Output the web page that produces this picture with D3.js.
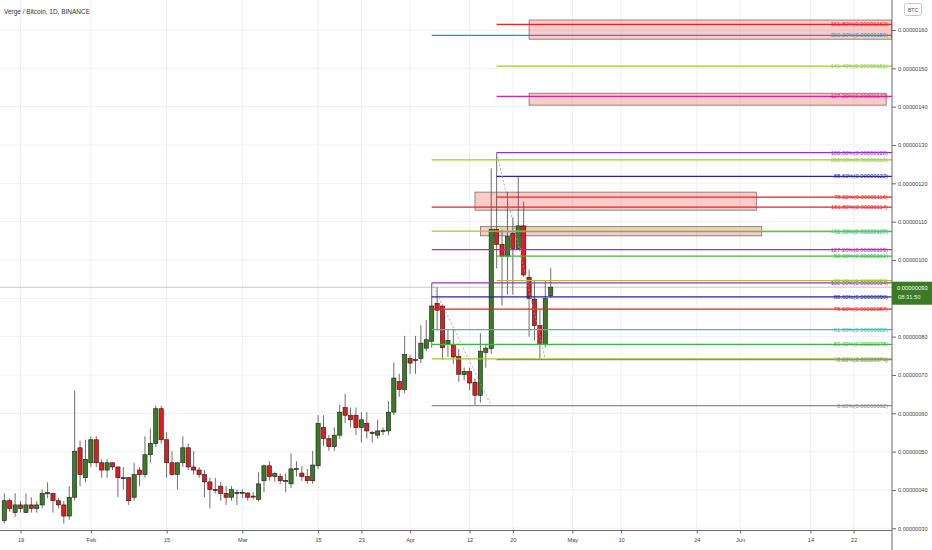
<!DOCTYPE html>
<html>
<head>
<meta charset="utf-8">
<script src="https://cdn.jsdelivr.net/npm/d3@7"></script>
<style>
  html, body { margin: 0; padding: 0; background: #fff; }
  svg { display: block; font-family: "Liberation Sans", Arial, sans-serif; }
</style>
</head>
<body>
<svg id="chart" width="932" height="550"></svg>
<script>
// Data, prices in satoshi (1e-8 BTC), one daily candle from Jan 16
const candleOpen = [
  32.0, 37.2, 34.1, 36.1, 34.1, 36.1, 35.2, 36.1, 39.0, 39.1,
  37.2, 36.1, 33.2, 38.1, 51.0, 43.2, 47.1, 53.1, 47.1, 45.2,
  47.1, 46.0, 43.2, 43.2, 38.1, 45.2, 44.0, 49.2, 52.1, 61.2,
  53.1, 47.1, 44.0, 47.1, 51.0, 46.0, 45.2, 44.0, 42.1, 40.1,
  41.0, 39.1, 38.1, 39.2, 39.3, 39.2, 38.4, 37.5, 42.4, 46.3,
  43.5, 43.5, 42.4, 41.6, 45.5, 44.4, 43.5, 42.4, 46.3, 56.3,
  53.4, 51.3, 54.3, 61.5, 59.5, 59.5, 56.3, 57.4, 55.0, 54.3,
  55.4, 55.4, 60.3, 68.3, 66.2, 74.3, 74.0, 74.3, 77.0, 78.8,
  88.7, 88.0, 78.1, 77.7, 74.8, 70.1, 70.9, 68.1, 64.7, 75.9,
  76.9, 108.0, 104.1, 101.0, 107.0, 103.0, 108.9, 95.5, 89.8, 82.9,
  78.0, 90.7
];
const candleHigh = [
  39.1, 37.8, 39.1, 37.1, 39.1, 38.1, 37.1, 40.1, 42.0, 39.3,
  37.9, 37.1, 41.0, 65.9, 52.9, 53.1, 54.0, 54.0, 48.0, 48.0,
  47.2, 46.1, 46.0, 43.3, 47.1, 46.0, 54.0, 56.0, 62.0, 62.0,
  55.1, 50.1, 47.2, 54.0, 52.1, 50.1, 46.0, 45.2, 43.2, 43.2,
  42.1, 41.0, 41.0, 40.1, 40.2, 39.4, 39.4, 44.6, 46.6, 47.5,
  44.8, 44.3, 44.3, 49.6, 47.5, 46.2, 45.5, 50.2, 59.5, 59.5,
  54.3, 56.3, 62.3, 65.1, 61.5, 61.5, 60.3, 60.3, 55.4, 58.3,
  56.3, 63.2, 73.3, 70.3, 80.2, 75.3, 80.2, 83.0, 84.3, 94.0,
  92.9, 88.4, 82.0, 82.0, 76.8, 71.9, 71.9, 69.1, 80.9, 78.1,
  123.9, 128.0, 108.0, 117.8, 111.1, 121.9, 115.2, 97.5, 94.5, 87.0,
  94.8, 97.9
];
const candleLow = [
  31.3, 34.3, 33.0, 34.1, 34.1, 34.1, 34.1, 35.2, 37.9, 34.1,
  35.2, 31.2, 32.2, 37.2, 41.0, 42.0, 46.0, 46.0, 43.2, 43.2,
  45.2, 38.1, 40.1, 36.1, 37.2, 41.0, 43.2, 47.1, 51.2, 52.1,
  43.2, 43.8, 40.1, 46.0, 45.2, 44.0, 43.2, 38.1, 35.2, 39.1,
  37.2, 36.1, 37.2, 36.1, 37.9, 37.2, 37.5, 37.0, 39.4, 42.4,
  42.2, 41.6, 39.4, 40.5, 43.5, 42.4, 41.6, 41.6, 45.5, 51.5,
  50.2, 50.2, 53.4, 57.4, 56.3, 54.3, 52.4, 53.4, 52.4, 53.4,
  54.3, 54.3, 59.5, 64.3, 65.3, 70.3, 70.3, 73.1, 76.2, 77.1,
  81.6, 74.0, 74.7, 72.9, 68.2, 68.6, 66.0, 62.0, 62.8, 71.9,
  75.5, 97.8, 88.1, 90.9, 90.9, 102.6, 95.6, 80.0, 79.0, 74.1,
  77.2, 90.1
];
const candleClose = [
  37.2, 35.2, 36.1, 35.2, 36.1, 35.2, 36.1, 39.1, 39.3, 37.2,
  36.1, 33.2, 38.1, 50.1, 44.0, 48.0, 53.1, 47.1, 45.2, 47.1,
  46.0, 43.2, 43.1, 37.2, 44.0, 44.0, 49.2, 52.1, 61.2, 53.1,
  47.1, 44.0, 47.1, 51.0, 46.0, 45.2, 44.0, 42.1, 40.1, 40.0,
  39.1, 38.1, 40.1, 39.3, 39.4, 38.1, 38.3, 41.6, 46.3, 43.5,
  44.3, 42.4, 42.5, 45.5, 45.6, 43.5, 42.4, 46.5, 57.4, 53.4,
  51.3, 54.3, 60.3, 59.5, 58.3, 56.3, 58.3, 55.4, 54.9, 55.4,
  55.5, 60.3, 69.2, 66.2, 75.3, 73.1, 73.9, 78.3, 79.2, 88.0,
  86.9, 77.1, 79.0, 74.7, 70.2, 70.9, 67.9, 64.7, 76.2, 77.0,
  108.0, 104.1, 101.0, 106.1, 103.0, 108.9, 96.1, 90.0, 82.9, 78.0,
  89.9, 92.9
];

// Fibonacci tools (level %, price)
const fibAStart = '2021-04-05';
const fibAPct = [100, 88.6, 78.6, 61.8, 50, 38.2, 0, 127.2, 141.4, 161.8, 200, 300];
const fibAPrice = [94.0, 90.4, 87.2, 81.8, 78.0, 74.2, 62.0, 102.7, 107.5, 113.8, 126.1, 158.6];
const fibBStart = '2021-04-17';
const fibBPct = [100, 88.6, 78.6, 61.8, 50, 38.2, 0, 127.2, 141.4, 161.8];
const fibBPrice = [128.0, 121.8, 116.4, 107.4, 101.0, 94.6, 74.0, 142.7, 150.6, 161.5];

// trend lines of the fib tools
const swingFrom = [['2021-04-05', 94.0], ['2021-04-17', 128.0]];
const swingTo = [['2021-04-16', 62.0], ['2021-04-26', 74.0]];

// rectangles
const zoneStart = ['2021-04-23', '2021-04-23', '2021-04-13', '2021-04-14'];
const zoneEnd = ['2021-06-29', '2021-06-28', '2021-06-04', '2021-06-05'];
const zoneTop = [162.6, 143.5, 117.7, 108.7];
const zoneBottom = [157.6, 140.4, 113.0, 106.3];

// axes
const xTickDates = ['2021-01-19', '2021-02-01', '2021-02-15', '2021-03-01', '2021-03-15', '2021-03-23',
  '2021-04-01', '2021-04-12', '2021-04-20', '2021-05-01', '2021-05-10', '2021-05-24',
  '2021-06-01', '2021-06-14', '2021-06-22'];
const xTickLabels = ['19', 'Feb', '15', 'Mar', '15', '23', 'Apr', '12', '20', 'May', '10', '24', 'Jun', '14', '22'];
const priceTicks = [30, 40, 50, 60, 70, 80, 90, 100, 110, 120, 130, 140, 150, 160];
// the 90 label sits under the last-price tag
const priceLabelTicks = [30, 40, 50, 60, 70, 80, 100, 110, 120, 130, 140, 150, 160];
const lastPrice = 92.9;
const countdown = '08:31:50';

const levelColor = {
  0: '#8a8a8a', 38.2: '#9acd32', 50: '#3cb83c', 61.8: '#2fc4b2', 78.6: '#f01e1e',
  88.6: '#26269e', 100: '#9b30c8', 127.2: '#d4209c', 141.4: '#9acd32', 161.8: '#f01e1e',
  200: '#9acd32', 300: '#2b8fc4'
};

const parseDay = d3.utcParse('%Y-%m-%d');
const fmtPrice = v => (Math.round(v) * 1e-8).toFixed(8);

const candleDays = d3.utcDay.range(parseDay('2021-01-16'), parseDay('2021-04-28'));
const candles = candleDays.map((d, i) => ({
  date: d, o: candleOpen[i], h: candleHigh[i], l: candleLow[i], c: candleClose[i]
}));

const fibLines = [
  ...fibAPct.map((p, i) => ({ start: parseDay(fibAStart), pct: p, price: fibAPrice[i] })),
  ...fibBPct.map((p, i) => ({ start: parseDay(fibBStart), pct: p, price: fibBPrice[i] }))
];

const plotRight = 892;
const plotBottom = 530.5;

const x = d3.scaleUtc()
  .domain([parseDay('2021-01-16'), parseDay('2021-06-22')])
  .range([4.3, 853.7]);

const y = d3.scaleLinear()
  .domain([30, 160])
  .range([528.3, 30]);

const svg = d3.select('#chart');

svg.append('defs').append('clipPath')
  .attr('id', 'plot-clip')
  .append('rect')
  .attr('width', plotRight)
  .attr('height', plotBottom);

const plot = svg.append('g').attr('clip-path', 'url(#plot-clip)');

// Grid
plot.selectAll('.vgrid')
  .data(xTickDates)
  .enter()
  .append('line')
  .attr('x1', d => x(parseDay(d)))
  .attr('x2', d => x(parseDay(d)))
  .attr('y1', 0)
  .attr('y2', plotBottom)
  .attr('stroke', '#eef0f3');

plot.selectAll('.hgrid')
  .data(priceTicks)
  .enter()
  .append('line')
  .attr('x1', 0)
  .attr('x2', plotRight)
  .attr('y1', d => y(d))
  .attr('y2', d => y(d))
  .attr('stroke', '#eef0f3');

// last price line
plot.append('line')
  .attr('x1', 0)
  .attr('x2', plotRight)
  .attr('y1', y(lastPrice))
  .attr('y2', y(lastPrice))
  .attr('stroke', '#c4c4cc');

// Zones
plot.selectAll('.zone')
  .data(zoneStart)
  .enter()
  .append('rect')
  .attr('x', (d, i) => x(parseDay(d)))
  .attr('y', (d, i) => y(zoneTop[i]))
  .attr('width', (d, i) => x(parseDay(zoneEnd[i])) - x(parseDay(d)))
  .attr('height', (d, i) => y(zoneBottom[i]) - y(zoneTop[i]))
  .attr('fill', 'rgba(244, 67, 54, 0.28)')
  .attr('stroke', '#7d6b6b')
  .attr('stroke-width', 0.8);

// Candles
const candle = plot.selectAll('.candle')
  .data(candles)
  .enter()
  .append('g');

candle.append('line')
  .attr('x1', d => x(d.date))
  .attr('x2', d => x(d.date))
  .attr('y1', d => y(d.h))
  .attr('y2', d => y(d.l))
  .attr('stroke', '#4a4a4a')
  .attr('stroke-width', 0.8);

candle.append('rect')
  .attr('x', d => x(d.date) - 2.1)
  .attr('width', 4.2)
  .attr('y', d => y(Math.max(d.o, d.c)))
  .attr('height', d => Math.max(1, Math.abs(y(d.o) - y(d.c))))
  .attr('fill', d => d.c >= d.o ? '#3b7a27' : '#e01c1c')
  .attr('stroke', '#1c1c1c')
  .attr('stroke-width', 0.6);

// Fib lines
plot.selectAll('.fib')
  .data(fibLines)
  .enter()
  .append('line')
  .attr('x1', d => x(d.start))
  .attr('x2', plotRight)
  .attr('y1', d => y(d.price))
  .attr('y2', d => y(d.price))
  .attr('stroke', d => levelColor[d.pct])
  .attr('stroke-width', 1.25);

plot.selectAll('.swing')
  .data(swingFrom)
  .enter()
  .append('line')
  .attr('x1', d => x(parseDay(d[0])))
  .attr('y1', d => y(d[1]))
  .attr('x2', (d, i) => x(parseDay(swingTo[i][0])))
  .attr('y2', (d, i) => y(swingTo[i][1]))
  .attr('stroke', '#9a9a9a')
  .attr('stroke-width', 0.8)
  .attr('stroke-dasharray', '2,2');

plot.selectAll('.fib-label')
  .data(fibLines)
  .enter()
  .append('text')
  .attr('x', 888)
  .attr('y', d => y(d.price))
  .attr('dy', '0.35em')
  .attr('text-anchor', 'end')
  .attr('font-size', 5.8)
  .attr('fill', d => levelColor[d.pct])
  .text(d => `${d.pct.toFixed(2)}%(${fmtPrice(d.price)})`);

// Axes
const yAxis = svg.append('g')
  .attr('transform', `translate(${plotRight},0)`)
  .call(d3.axisRight(y)
    .tickValues(priceLabelTicks)
    .tickFormat(fmtPrice)
    .tickSize(4)
    .tickPadding(2));

const xAxis = svg.append('g')
  .attr('transform', `translate(0,${plotBottom})`)
  .call(d3.axisBottom(x)
    .tickValues(xTickDates.map(parseDay))
    .tickFormat((d, i) => xTickLabels[i])
    .tickSize(3)
    .tickPadding(5));

[yAxis, xAxis].forEach(a => {
  a.select('.domain').remove();
  a.selectAll('line').attr('stroke', '#6a6a6a');
  a.selectAll('text').attr('font-size', 5.6).attr('fill', '#444')
    .attr('font-family', '"Liberation Sans", Arial, sans-serif');
});

svg.append('line')
  .attr('x1', plotRight).attr('x2', plotRight)
  .attr('y1', 0).attr('y2', 550)
  .attr('stroke', '#6a6a6a');

svg.append('line')
  .attr('x1', 0).attr('x2', plotRight)
  .attr('y1', plotBottom).attr('y2', plotBottom)
  .attr('stroke', '#6a6a6a');

// Last price tag
svg.append('rect')
  .attr('x', plotRight)
  .attr('y', y(lastPrice) - 5.5)
  .attr('width', 932 - plotRight)
  .attr('height', 23)
  .attr('fill', '#3c7b25');

svg.append('text')
  .attr('x', 897)
  .attr('y', y(lastPrice) + 2.5)
  .attr('font-size', 5.8)
  .attr('fill', '#fff')
  .text(fmtPrice(lastPrice));

svg.append('text')
  .attr('x', 898)
  .attr('y', y(lastPrice) + 12)
  .attr('font-size', 5.8)
  .attr('fill', '#e8f0e4')
  .text(countdown);

// Title and currency badge
svg.append('text')
  .attr('x', 4)
  .attr('y', 14)
  .attr('font-size', 7.4)
  .attr('fill', '#333')
  .attr('textLength', 86)
  .attr('lengthAdjust', 'spacingAndGlyphs')
  .text('Verge / Bitcoin, 1D, BINANCE');

svg.append('rect')
  .attr('x', 904.5)
  .attr('y', 3.5)
  .attr('width', 17)
  .attr('height', 12)
  .attr('rx', 2)
  .attr('fill', '#fff')
  .attr('stroke', '#c8c8c8');

svg.append('text')
  .attr('x', 913)
  .attr('y', 11.5)
  .attr('text-anchor', 'middle')
  .attr('font-size', 5)
  .attr('fill', '#555')
  .text('BTC');
</script>
</body>
</html>
